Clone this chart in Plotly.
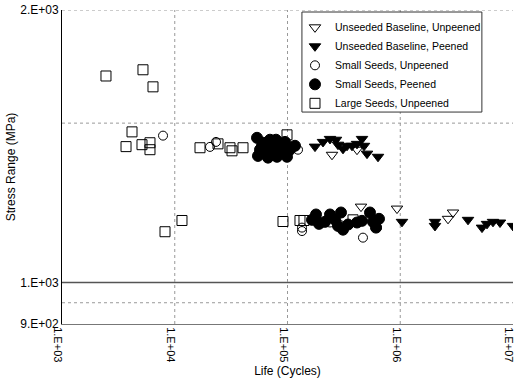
import plotly.graph_objects as go

# Unseeded Baseline, Unpeened (open down-triangles)
ub_up_x = [248100, 310600, 413500, 448700, 935900, 2652000, 2937000]
ub_up_y = [1384, 1409, 1402, 1213, 1207, 1176, 1195]

# Unseeded Baseline, Peened (filled down-triangles)
ub_p_x = [175400, 206500, 238200, 269300, 280500, 310600, 337100, 373400, 413500,
          458000, 477000, 507300, 634800,
          1036000, 2033000, 2033000, 3990000, 5309000, 5882000, 6645000, 7667000, 9990000]
ub_p_y = [1413, 1430, 1441, 1438, 1420, 1405, 1416, 1416, 1423,
          1441, 1416, 1388, 1377,
          1167, 1167, 1155, 1173, 1150, 1161, 1167, 1165, 1155]

# Small Seeds, Unpeened (open circles)
ss_up_x = [7870, 20540, 23220, 72880, 124000, 134500, 134500, 202000, 238200, 290000, 467000, 622000]
ss_up_y = [1453, 1412, 1430, 1388, 1402, 1150, 1140, 1165, 1165, 1159, 1121, 1150]

# Small Seeds, Peened (filled circles)
ss_p_x = [53640, 60630, 69950, 79070, 57020, 64470, 72880, 85820, 95000, 54740,
          67150, 80700, 99000, 105200, 116500, 91200, 59400, 75900,
          164900, 179000, 190300, 238200, 263900, 298200, 310600, 280500,
          344000, 413500, 458000, 539000, 573300, 647900, 609300, 215100]
ss_p_y = [1445, 1427, 1438, 1438, 1402, 1394, 1409, 1413, 1430, 1380,
          1374, 1377, 1377, 1402, 1416, 1391, 1416, 1388,
          1173, 1189, 1161, 1189, 1173, 1195, 1144, 1155,
          1159, 1165, 1170, 1195, 1167, 1176, 1150, 1167]

# Large Seeds, Unpeened (open squares)
ls_up_x = [2455, 5227, 6412, 4178, 3697, 5122, 6030, 6030, 8196, 11590,
           16750, 24190, 30900, 32200, 40300, 99000,
           91200, 129000, 140000, 381000]
ls_up_y = [1691, 1718, 1645, 1467, 1413, 1420, 1427, 1402, 1138, 1171,
           1409, 1423, 1409, 1398, 1409, 1456,
           1168, 1171, 1171, 1173]

x_tick_vals = [1e3, 1e4, 1e5, 1e6, 1e7]
x_tick_text = ["1.E+03", "1.E+04", "1.E+05", "1.E+06", "1.E+07"]
y_tick_vals = [900, 1000, 2000]
y_tick_text = ["9.E+02", "1.E+03", "2.E+03"]
y_grid_dotted = [2000, 1500, 950]
y_grid_solid = [1000]
x_grid = [1e4, 1e5, 1e6]

FONT = "Arial, Liberation Sans, Helvetica, sans-serif"

fig = go.Figure()

series = [
    ("Unseeded Baseline, Unpeened", ub_up_x, ub_up_y, "triangle-down-open", 10),
    ("Unseeded Baseline, Peened", ub_p_x, ub_p_y, "triangle-down", 10),
    ("Small Seeds, Unpeened", ss_up_x, ss_up_y, "circle-open", 9),
    ("Small Seeds, Peened", ss_p_x, ss_p_y, "circle", 11),
    ("Large Seeds, Unpeened", ls_up_x, ls_up_y, "square-open", 10),
]
for name, xs, ys, sym, sz in series:
    fig.add_trace(go.Scatter(
        x=xs, y=ys, mode="markers", name=name,
        marker=dict(symbol=sym, size=sz, color="black",
                    line=dict(color="black", width=1)),
    ))

for yv in y_grid_dotted:
    fig.add_shape(type="line", xref="paper", x0=0, x1=1, yref="y", y0=yv, y1=yv,
                  line=dict(color="#999999", width=1, dash="dot"), layer="below")
for yv in y_grid_solid:
    fig.add_shape(type="line", xref="paper", x0=0, x1=1, yref="y", y0=yv, y1=yv,
                  line=dict(color="#555555", width=1.5), layer="below")
for xv in x_grid:
    fig.add_shape(type="line", yref="paper", y0=0, y1=1, xref="x", x0=xv, x1=xv,
                  line=dict(color="#999999", width=1, dash="dot"), layer="below")

# legend frame
fig.add_shape(type="rect", xref="paper", yref="paper", x0=0.532, x1=0.931, y0=0.675, y1=0.9936,
              line=dict(color="#333333", width=1), fillcolor="white", layer="above")

fig.update_layout(
    width=515, height=383,
    margin=dict(l=62, r=2, t=10, b=59, autoexpand=False),
    paper_bgcolor="white", plot_bgcolor="white",
    font=dict(family=FONT, size=12, color="black"),
    showlegend=True,
    legend=dict(x=0.5166, y=0.991, xanchor="left", yanchor="top",
                borderwidth=0, bgcolor="rgba(0,0,0,0)",
                font=dict(size=10.5, family=FONT), itemwidth=30,
                tracegroupgap=0),
    xaxis=dict(type="log", range=[3, 7], tickvals=x_tick_vals, ticktext=x_tick_text,
               tickangle=90, showgrid=False, zeroline=False, automargin=False,
               showline=True, linecolor="#777777", linewidth=1,
               ticks="", tickfont=dict(size=11, family=FONT),
               ticklabeloverflow="allow", ticklabelshift=-4,
               title=dict(text="Life (Cycles)", font=dict(size=12, family=FONT), standoff=5)),
    yaxis=dict(type="log", range=[2.95424, 3.30103], tickvals=y_tick_vals, ticktext=y_tick_text,
               showgrid=False, zeroline=False, showline=True, linecolor="black", linewidth=1,
               ticks="", tickfont=dict(size=12, family=FONT), automargin=False,
               ticklabeloverflow="allow",
               title=dict(text="Stress Range (MPa)", font=dict(size=12, family=FONT), standoff=2)),
)

fig.write_html("out.html", config={"displayModeBar": False},
               post_script="document.body.style.margin='0';document.body.style.overflow='hidden';document.documentElement.style.overflow='hidden';")
